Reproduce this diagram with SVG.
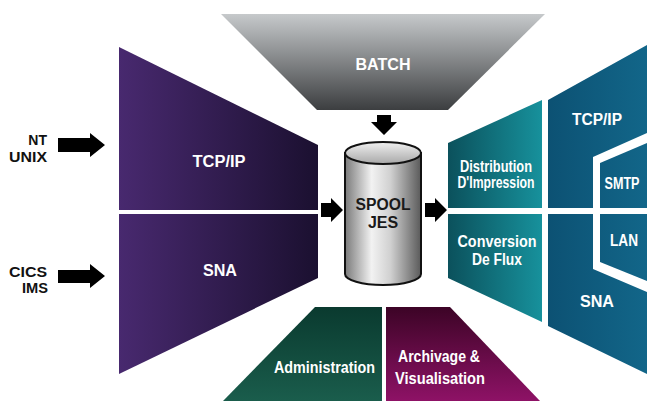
<svg xmlns="http://www.w3.org/2000/svg" width="647" height="401" viewBox="0 0 647 401">
<defs>
<linearGradient id="gPurple" x1="0" y1="0" x2="1" y2="0"><stop offset="0" stop-color="#48296f"/><stop offset="1" stop-color="#1b1030"/></linearGradient>
<linearGradient id="gGray" x1="0" y1="0" x2="0" y2="1"><stop offset="0" stop-color="#c6c9cb"/><stop offset="1" stop-color="#3c3e40"/></linearGradient>
<linearGradient id="gTeal" x1="0" y1="0" x2="1" y2="0"><stop offset="0" stop-color="#0b515c"/><stop offset="1" stop-color="#17919c"/></linearGradient>
<linearGradient id="gBlue" gradientUnits="userSpaceOnUse" x1="547" y1="0" x2="647" y2="0"><stop offset="0" stop-color="#0c5173"/><stop offset="1" stop-color="#126689"/></linearGradient>
<linearGradient id="gGreen" x1="0" y1="0" x2="0" y2="1"><stop offset="0" stop-color="#0a3a2f"/><stop offset="1" stop-color="#1a5d4c"/></linearGradient>
<linearGradient id="gMagenta" x1="0" y1="0" x2="0" y2="1"><stop offset="0" stop-color="#3c0426"/><stop offset="1" stop-color="#8e1266"/></linearGradient>
<linearGradient id="gCyl" x1="0" y1="0" x2="1" y2="0"><stop offset="0" stop-color="#7a7a7a"/><stop offset="0.35" stop-color="#f2f2f2"/><stop offset="0.6" stop-color="#d0d0d0"/><stop offset="1" stop-color="#5a5a5a"/></linearGradient>
<linearGradient id="gCylTop" x1="0" y1="0" x2="0" y2="1"><stop offset="0" stop-color="#f0f0f0"/><stop offset="1" stop-color="#a8a8a8"/></linearGradient>
</defs>
<style>
text{font-family:"Liberation Sans",Arial,sans-serif;font-weight:bold;font-size:16px;}
.w{fill:#ffffff;text-anchor:middle;}
.d{fill:#1a1a1a;text-anchor:middle;}
.l{fill:#111111;text-anchor:end;font-size:14px;}
.arrow{fill:#000000;}
</style>
<rect width="647" height="401" fill="#ffffff"/>

<g id="batch">
<path d="M221,14 H545 L448,110 H317 Z" fill="url(#gGray)"/>
<text class="w" x="383" y="70" textLength="55" lengthAdjust="spacingAndGlyphs">BATCH</text>
</g>

<g id="tcpip-in">
<path d="M119,47 L318,145 V210 H119 Z" fill="url(#gPurple)"/>
<text class="w" x="219" y="167" textLength="53" lengthAdjust="spacingAndGlyphs">TCP/IP</text>
</g>

<g id="sna-in">
<path d="M119,214 H318 V278 L119,374 Z" fill="url(#gPurple)"/>
<text class="w" x="220" y="276" textLength="34" lengthAdjust="spacingAndGlyphs">SNA</text>
</g>

<g id="nt-unix">
<text class="l" x="47" y="145">NT</text>
<text class="l" x="47" y="162" textLength="38" lengthAdjust="spacingAndGlyphs">UNIX</text>
</g>

<g id="cics-ims">
<text class="l" x="47" y="277" textLength="38" lengthAdjust="spacingAndGlyphs">CICS</text>
<text class="l" x="48" y="293" textLength="26" lengthAdjust="spacingAndGlyphs">IMS</text>
</g>

<g id="spool">
<path d="M345,153 V274 A38,11 0 0 0 421,274 V153 Z" fill="url(#gCyl)" stroke="#111111" stroke-width="2"/>
<ellipse cx="383" cy="153" rx="38" ry="11" fill="url(#gCylTop)" stroke="#111111" stroke-width="2"/>
<text class="d" x="383" y="210" textLength="55" lengthAdjust="spacingAndGlyphs">SPOOL</text>
<text class="d" x="383" y="228">JES</text>
</g>

<g id="distribution">
<path d="M448,143 L542,100 V208 H448 Z" fill="url(#gTeal)"/>
<text class="w" x="496" y="172" textLength="72" lengthAdjust="spacingAndGlyphs">Distribution</text>
<text class="w" x="496" y="188" textLength="77" lengthAdjust="spacingAndGlyphs">D'Impression</text>
</g>

<g id="conversion">
<path d="M448,214 H542 V322 L448,278 Z" fill="url(#gTeal)"/>
<text class="w" x="497" y="247" textLength="79" lengthAdjust="spacingAndGlyphs">Conversion</text>
<text class="w" x="497" y="265" textLength="50" lengthAdjust="spacingAndGlyphs">De Flux</text>
</g>

<g id="tcpip-out">
<path d="M548,100 L647,45 V133 L593,157 V208 H548 Z" fill="url(#gBlue)"/>
<text class="w" x="597" y="125" textLength="50" lengthAdjust="spacingAndGlyphs">TCP/IP</text>
</g>

<g id="smtp">
<path d="M600,163 L647,143 V208 H600 Z" fill="url(#gBlue)"/>
<text class="w" x="622" y="189" font-size="15" textLength="35" lengthAdjust="spacingAndGlyphs">SMTP</text>
</g>

<g id="lan">
<path d="M600,214 H647 V281 L600,262 Z" fill="url(#gBlue)"/>
<text class="w" x="624" y="246" textLength="28" lengthAdjust="spacingAndGlyphs">LAN</text>
</g>

<g id="sna-out">
<path d="M548,214 H593 V269 L647,292 V374 L548,326 Z" fill="url(#gBlue)"/>
<text class="w" x="597" y="307" textLength="34" lengthAdjust="spacingAndGlyphs">SNA</text>
</g>

<g id="administration">
<path d="M315,307 H382 V401 H223 Z" fill="url(#gGreen)"/>
<text class="w" x="324.5" y="373" textLength="101" lengthAdjust="spacingAndGlyphs">Administration</text>
</g>

<g id="archivage">
<path d="M386,307 H450 L540,401 H386 Z" fill="url(#gMagenta)"/>
<text class="w" x="439" y="362" textLength="82" lengthAdjust="spacingAndGlyphs">Archivage &amp;</text>
<text class="w" x="440" y="384" textLength="90" lengthAdjust="spacingAndGlyphs">Visualisation</text>
</g>

<g id="connectors">
<path class="arrow" d="M58,138 H90 V133 L105,145 L90,157 V152 H58 Z"/>
<path class="arrow" d="M58,270 H90 V264 L105,276 L90,288 V283 H58 Z"/>
<path class="arrow" d="M377,115 H391 V122 H397 L384,135 L371,122 H377 Z"/>
<path class="arrow" d="M321,203 H331 V198 L343,210 L331,222 V217 H321 Z"/>
<path class="arrow" d="M425,203 H435 V198 L447,210 L435,222 V217 H425 Z"/>
</g>
</svg>
